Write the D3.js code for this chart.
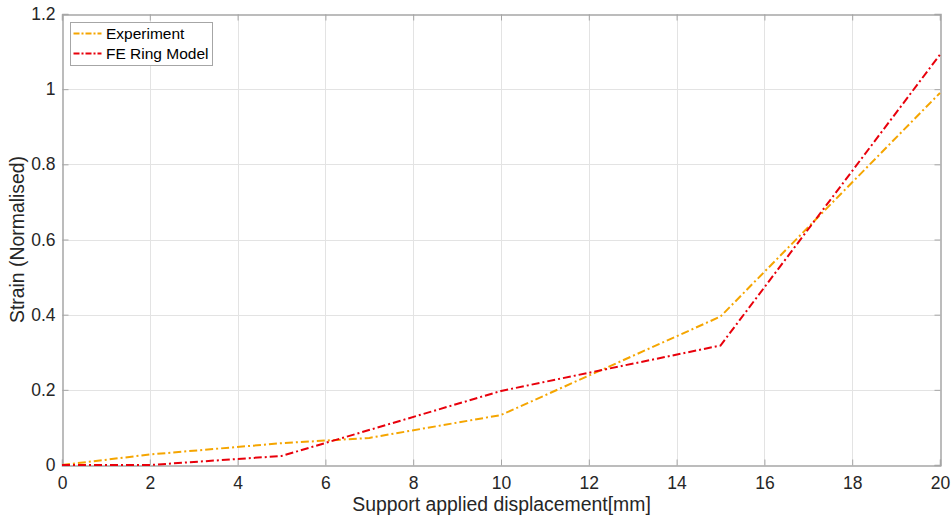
<!DOCTYPE html>
<html>
<style>
    body { margin: 0; background: #fff; }
    svg { font-family: "Liberation Sans", Arial, sans-serif; }
    .grid line { stroke: #e3e3e3; stroke-width: 1px; }
    .tick-label { fill: #262626; font-size: 17.5px; }
</style>
<script src="https://d3js.org/d3.v7.min.js"></script>
<body>
<svg width="952" height="522"></svg>
<script>
    // values
    const experimentX = [0, 2, 5, 7, 10, 15, 20];
    const experimentY = [0, 0.028, 0.058, 0.072, 0.133, 0.395, 0.99];
    const ringX = [0, 2, 5, 10, 15, 20];
    const ringY = [0, 0, 0.024, 0.197, 0.318, 1.092];
    const xTicks = [0, 2, 4, 6, 8, 10, 12, 14, 16, 18, 20];
    const yTicks = [0, 0.2, 0.4, 0.6, 0.8, 1, 1.2];
    const seriesNames = ["Experiment", "FE Ring Model"];
    const seriesColors = ["#f5a500", "#e8000b"];

    const svg = d3.select("svg");
    const plotLeft = 62, plotRight = 940, plotTop = 14, plotBottom = 465;

    const x = d3.scaleLinear().domain([0, 20]).range([plotLeft, plotRight]);
    const y = d3.scaleLinear().domain([0, 1.2]).range([plotBottom, plotTop]);

    // grid
    const grid = svg.append("g").attr("class", "grid");
    grid.selectAll(".gx").data(xTicks.slice(1, -1)).join("line")
        .attr("x1", d => Math.round(x(d)) + 0.5).attr("x2", d => Math.round(x(d)) + 0.5)
        .attr("y1", plotTop).attr("y2", plotBottom);
    grid.selectAll(".gy").data(yTicks.slice(1, -1)).join("line")
        .attr("y1", d => Math.round(y(d)) + 0.5).attr("y2", d => Math.round(y(d)) + 0.5)
        .attr("x1", plotLeft).attr("x2", plotRight);

    // axes (MATLAB style box with inward ticks)
    const axisColor = "#a6a6a6";
    const xAxis = svg.append("g").attr("transform", `translate(0,${plotBottom + 0.5})`)
        .call(d3.axisBottom(x).tickValues(xTicks).tickSize(-6).tickPadding(11).tickFormat(d3.format("d")));
    const xTop = svg.append("g").attr("transform", `translate(0,${plotTop + 0.5})`)
        .call(d3.axisTop(x).tickValues(xTicks).tickSize(-6).tickFormat(""));
    const yAxis = svg.append("g").attr("transform", `translate(${plotLeft + 0.5},0)`)
        .call(d3.axisLeft(y).tickValues(yTicks).tickSize(-6).tickPadding(7).tickFormat(d => d3.format("~g")(d)));
    const yRight = svg.append("g").attr("transform", `translate(${plotRight + 0.5},0)`)
        .call(d3.axisRight(y).tickValues(yTicks).tickSize(-6).tickFormat(""));

    [xAxis, xTop, yAxis, yRight].forEach(a => {
        a.select(".domain").attr("stroke", axisColor).attr("stroke-width", 1.5);
        a.selectAll(".tick line").attr("stroke", axisColor);
        a.selectAll(".tick text").attr("class", "tick-label").attr("font-family", null).attr("font-size", null);
    });

    // lines
    const line = d3.line().x(d => x(d[0])).y(d => y(d[1]));
    const series = [
        d3.zip(experimentX, experimentY),
        d3.zip(ringX, ringY)
    ];
    svg.append("g").selectAll("path").data(series).join("path")
        .attr("d", line)
        .attr("fill", "none")
        .attr("stroke", (d, i) => seriesColors[i])
        .attr("stroke-width", 2)
        .attr("stroke-dasharray", "8,3,2,3");

    // axis titles
    svg.append("text")
        .attr("x", (plotLeft + plotRight) / 2 + 0.5).attr("y", 511)
        .attr("text-anchor", "middle").attr("fill", "#262626").attr("font-size", 19.4)
        .text("Support applied displacement[mm]");
    svg.append("text")
        .attr("transform", `translate(24,${(plotTop + plotBottom) / 2}) rotate(-90)`)
        .attr("text-anchor", "middle").attr("fill", "#262626").attr("font-size", 19.4)
        .text("Strain (Normalised)");

    // legend
    const legend = svg.append("g").attr("transform", "translate(70.5,22.5)");
    legend.append("rect").attr("width", 142).attr("height", 43)
        .attr("fill", "#fff").attr("stroke", "#a6a6a6");
    seriesNames.forEach((name, i) => {
        const row = legend.append("g").attr("transform", `translate(0,${11 + i * 20})`);
        row.append("line").attr("x1", 3).attr("x2", 31).attr("y1", 0).attr("y2", 0)
            .attr("stroke", seriesColors[i]).attr("stroke-width", 2)
            .attr("stroke-dasharray", "6,2,2,2");
        row.append("text").attr("x", 35.5).attr("y", 5.5)
            .attr("font-size", 15.5).attr("fill", "#000").text(name);
    });
</script>
</body>
</html>
